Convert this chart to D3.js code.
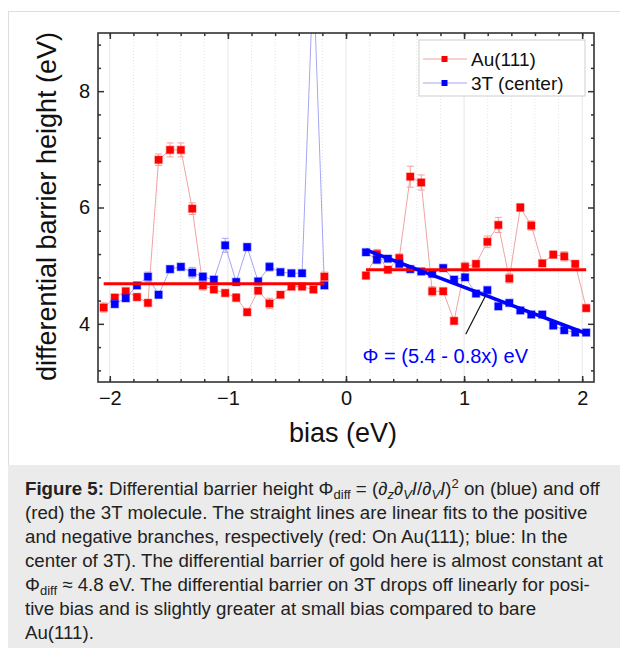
<!DOCTYPE html>
<html>
<head>
<meta charset="utf-8">
<script src="https://cdn.jsdelivr.net/npm/d3@7"></script>
<style>
body { margin: 0; background: #fff; font-family: "Liberation Sans", Arial, sans-serif; }
#wrap { position: relative; width: 620px; height: 648px; overflow: hidden; }
#frame { position: absolute; left: 8px; top: 11px; width: 700px; height: 700px; border: 1px solid #dedede; box-sizing: border-box; }
#chart { position: absolute; left: 0; top: 0; }
#caption { position: absolute; left: 8px; top: 465px; width: 700px; height: 200px; background: #ebebeb;
  padding: 12px 0 0 17px; box-sizing: border-box; font-size: 18.7px; line-height: 24px; color: #222; white-space: nowrap; }
#caption sub, #caption sup { font-size: 13px; line-height: 0; }
#caption sub { vertical-align: -4px; }
#caption sup { vertical-align: 7px; }
</style>
</head>
<body>
<div id="wrap">
  <div id="frame"></div>
  <div id="chart"></div>
  <div id="caption"><b>Figure 5:</b> Differential barrier height Φ<sub>diff</sub> = (<i>∂<sub>z</sub>∂<sub>V</sub>I</i>/<i>∂<sub>V</sub>I</i>)<sup>2</sup> on (blue) and off<br>(red) the 3T molecule. The straight lines are linear fits to the positive<br>and negative branches, respectively (red: On Au(111); blue: In the<br>center of 3T). The differential barrier of gold here is almost constant at<br>Φ<sub>diff</sub> ≈ 4.8 eV. The differential barrier on 3T drops off linearly for posi-<br>tive bias and is slightly greater at small bias compared to bare<br>Au(111).</div>
</div>
<script>
// bias values (eV)
var negBias = [-2.052, -1.958, -1.865, -1.770, -1.677, -1.587, -1.490, -1.398, -1.302, -1.212, -1.119,
               -1.023, -0.930, -0.837, -0.744, -0.648, -0.555, -0.462, -0.372, -0.276, -0.183];
var posBias = [0.169, 0.262, 0.355, 0.451, 0.544, 0.637, 0.730, 0.823, 0.915, 1.008, 1.101,
               1.197, 1.290, 1.383, 1.476, 1.569, 1.662, 1.755, 1.848, 1.941, 2.034];

// Au(111) (red)
var auNeg = [4.28, 4.45, 4.56, 4.46, 4.36, 6.82, 6.99, 6.99, 5.98, 4.66, 4.59,
             4.53, 4.45, 4.20, 4.57, 4.35, 4.50, 4.64, 4.64, 4.59, 4.81];
var auNegErr = [0.08, 0.06, 0.05, 0.06, 0.05, 0.10, 0.12, 0.12, 0.10, 0.08, 0.05,
                0.05, 0.07, 0.05, 0.05, 0.09, 0.04, 0.05, 0.05, 0.05, 0.08];
var auPos = [4.83, 5.20, 4.93, 5.13, 6.53, 6.43, 4.56, 4.56, 4.05, 4.98, 5.03,
             5.41, 5.70, 4.78, 6.00, 5.69, 5.04, 5.19, 5.16, 5.03, 4.27];
var auPosErr = [0.06, 0.08, 0.05, 0.07, 0.18, 0.13, 0.08, 0.05, 0.05, 0.08, 0.05,
                0.10, 0.13, 0.08, 0.07, 0.08, 0.05, 0.06, 0.08, 0.05, 0.05];

// 3T center (blue), no point at the first negative bias
var tNeg = [null, 4.34, 4.44, 4.66, 4.81, 4.50, 4.94, 4.98, 4.88, 4.81, 4.76,
            5.35, 4.72, 5.32, 4.73, 4.98, 4.89, 4.87, 4.87, 10.0, 4.66];
var tNegErr = [0, 0.06, 0.05, 0.05, 0.08, 0.06, 0.06, 0.06, 0.09, 0.07, 0.05,
               0.12, 0.05, 0.06, 0.04, 0.07, 0.04, 0.05, 0.05, 0.05, 0.04];
var tPos = [5.23, 5.10, 5.12, 5.03, 4.94, 4.90, 4.86, 4.96, 4.76, 4.80, 4.52,
            4.58, 4.30, 4.36, 4.23, 4.16, 4.16, 3.97, 3.89, 3.85, 3.85];
var tPosErr = [0.04, 0.04, 0.04, 0.04, 0.04, 0.04, 0.04, 0.04, 0.04, 0.04, 0.04,
               0.04, 0.04, 0.04, 0.04, 0.04, 0.04, 0.04, 0.04, 0.04, 0.04];

// linear fits
var auNegFit = 4.69, auPosFit = 4.93;
var tFitA = 5.40, tFitB = -0.77;
var fitLabel = "Φ = (5.4 - 0.8x) eV";
var pointer = [[1.014, 3.82], [1.178, 4.47]];

var xTicks = [-2, -1, 0, 1, 2];
var yTicks = [4, 6, 8];

var margin = {top: 33, right: 26, bottom: 266, left: 98},
    width = 620 - margin.left - margin.right,
    height = 648 - margin.top - margin.bottom;

var svg = d3.select("#chart")
  .append("svg")
    .attr("width", 620)
    .attr("height", 648)
  .append("g")
    .attr("transform", "translate(" + margin.left + "," + margin.top + ")");

var x = d3.scaleLinear().domain([-2.1, 2.1]).range([0, width]);
var y = d3.scaleLinear().domain([3, 9]).range([height, 0]);

svg.append("clipPath").attr("id", "clip")
  .append("rect").attr("width", width).attr("height", height);

// vertical grid
var minorX = d3.range(-2.0, 2.01, 0.2).map(function(d){ return +d.toFixed(1); });
svg.append("g").selectAll("line")
  .data(minorX.filter(function(d){ return xTicks.indexOf(d) < 0; }))
  .enter().append("line")
    .attr("x1", function(d){ return x(d); }).attr("x2", function(d){ return x(d); })
    .attr("y1", 0).attr("y2", height)
    .style("stroke", "#e4e4e4").style("stroke-dasharray", "1,2");
svg.append("g").selectAll("line")
  .data(xTicks)
  .enter().append("line")
    .attr("x1", function(d){ return x(d); }).attr("x2", function(d){ return x(d); })
    .attr("y1", 0).attr("y2", height)
    .style("stroke", "#e6e6e6");

// data series
function rows(bias, vals, errs) {
  return bias.map(function(b, i){ return {x: b, y: vals[i], e: errs[i]}; })
    .filter(function(d){ return d.y != null; });
}
var series = [
  {c: "#ff0000", lc: "#f2a2a2", ec: "#f0a0a0", d: rows(negBias, auNeg, auNegErr)},
  {c: "#ff0000", lc: "#f2a2a2", ec: "#f0a0a0", d: rows(posBias, auPos, auPosErr)},
  {c: "#0000ff", lc: "#a6a6f2", ec: "#a6a6f0", d: rows(negBias, tNeg, tNegErr)},
  {c: "#0000ff", lc: "#a6a6f2", ec: "#a6a6f0", d: rows(posBias, tPos, tPosErr)}
];

var line = d3.line().x(function(d){ return x(d.x); }).y(function(d){ return y(d.y); });
var plot = svg.append("g").attr("clip-path", "url(#clip)");

series.forEach(function(s) {
  plot.append("path").datum(s.d)
    .attr("d", line)
    .style("fill", "none").style("stroke", s.lc).style("stroke-width", 1);
});
series.forEach(function(s) {
  var g = plot.append("g");
  g.selectAll(".eb").data(s.d).enter().append("path")
    .attr("d", function(d){
      var cx = x(d.x), y0 = y(d.y - d.e), y1 = y(d.y + d.e);
      return "M" + cx + "," + y0 + "V" + y1 + "M" + (cx - 3.5) + "," + y0 + "H" + (cx + 3.5) +
             "M" + (cx - 3.5) + "," + y1 + "H" + (cx + 3.5);
    })
    .style("fill", "none").style("stroke", s.ec).style("stroke-width", 1);
  g.selectAll("rect").data(s.d).enter().append("rect")
    .attr("x", function(d){ return x(d.x) - 3.7; })
    .attr("y", function(d){ return y(d.y) - 3.7; })
    .attr("width", 7.4).attr("height", 7.4)
    .style("fill", s.c)
    .style("stroke", s.c).style("stroke-opacity", 0.3).style("stroke-width", 1.5);
});

// fit lines
var fits = [
  {c: "#ff0000", w: 3, p: [[negBias[0], auNegFit], [negBias[negBias.length - 1], auNegFit]]},
  {c: "#ff0000", w: 3, p: [[posBias[0], auPosFit], [posBias[posBias.length - 1], auPosFit]]},
  {c: "#0000ff", w: 3.5, p: [posBias[0], posBias[posBias.length - 1]].map(function(b){ return [b, tFitA + tFitB * b]; })}
];
fits.forEach(function(f) {
  svg.append("path").datum(f.p)
    .attr("d", d3.line().x(function(d){ return x(d[0]); }).y(function(d){ return y(d[1]); }))
    .style("stroke", f.c).style("stroke-width", f.w).style("fill", "none");
});

svg.append("line")
  .attr("x1", x(pointer[0][0])).attr("y1", y(pointer[0][1]))
  .attr("x2", x(pointer[1][0])).attr("y2", y(pointer[1][1]))
  .style("stroke", "#111").style("stroke-width", 1.2);

svg.append("text")
  .attr("x", x(0.14)).attr("y", height - 19)
  .style("font-size", "20px").style("fill", "#0000ff")
  .text(fitLabel);

// axes, ticks inside
var minorY = d3.range(3.2, 9, 0.4).map(function(d){ return +d.toFixed(1); })
  .filter(function(d){ return yTicks.indexOf(d) < 0; });

function axisStyle(g) {
  g.select(".domain").remove();
  g.selectAll("line").style("stroke", "#333").style("stroke-width", 1.5);
  g.selectAll("text").style("font-size", "20px").style("fill", "#111")
    .style("font-family", "'Liberation Sans', Arial, sans-serif");
}
svg.append("g").attr("transform", "translate(0," + height + ")")
  .call(d3.axisBottom(x).tickValues(xTicks).tickSize(-6).tickPadding(9).tickFormat(d3.format("d")))
  .call(axisStyle);
svg.append("g").attr("transform", "translate(0," + height + ")")
  .call(d3.axisBottom(x).tickValues(minorX).tickSize(-3).tickFormat(""))
  .call(axisStyle);
svg.append("g")
  .call(d3.axisTop(x).tickValues(xTicks).tickSize(-6).tickFormat(""))
  .call(axisStyle);
svg.append("g")
  .call(d3.axisTop(x).tickValues(minorX).tickSize(-3).tickFormat(""))
  .call(axisStyle);
svg.append("g")
  .call(d3.axisLeft(y).tickValues(yTicks).tickSize(-6).tickPadding(8).tickFormat(d3.format("d")))
  .call(axisStyle);
svg.append("g")
  .call(d3.axisLeft(y).tickValues(minorY).tickSize(-3).tickFormat(""))
  .call(axisStyle);
svg.append("g").attr("transform", "translate(" + width + ",0)")
  .call(d3.axisRight(y).tickValues(yTicks).tickSize(-6).tickFormat(""))
  .call(axisStyle);
svg.append("g").attr("transform", "translate(" + width + ",0)")
  .call(d3.axisRight(y).tickValues(minorY).tickSize(-3).tickFormat(""))
  .call(axisStyle);

svg.append("rect")
  .attr("width", width).attr("height", height)
  .style("fill", "none").style("stroke", "#333").style("stroke-width", 1.6);

// axis titles
svg.append("text")
  .attr("text-anchor", "middle")
  .attr("x", 245).attr("y", height + 60)
  .style("font-size", "27px").style("fill", "#111")
  .text("bias (eV)");
svg.append("text")
  .attr("text-anchor", "middle")
  .attr("transform", "translate(-42," + (height / 2 - 1) + ") rotate(-90)")
  .style("font-size", "27px").style("fill", "#111")
  .text("differential barrier height (eV)");

// legend
var legend = svg.append("g").attr("transform", "translate(321,7)");
legend.append("rect")
  .attr("width", 166).attr("height", 56)
  .style("fill", "#fff").style("stroke", "#cfcfcf");
var legendItems = [{name: "Au(111)", s: series[0]}, {name: "3T (center)", s: series[2]}];
legendItems.forEach(function(d, i) {
  var ly = 19 + i * 24;
  legend.append("line").attr("x1", 4).attr("x2", 48).attr("y1", ly).attr("y2", ly)
    .style("stroke", d.s.lc).style("stroke-width", 1);
  legend.append("rect").attr("x", 22.5).attr("y", ly - 3).attr("width", 6).attr("height", 6)
    .style("fill", d.s.c);
  legend.append("text").attr("x", 52).attr("y", ly + 7)
    .style("font-size", "19px").style("fill", "#111")
    .text(d.name);
});
</script>
</body>
</html>
